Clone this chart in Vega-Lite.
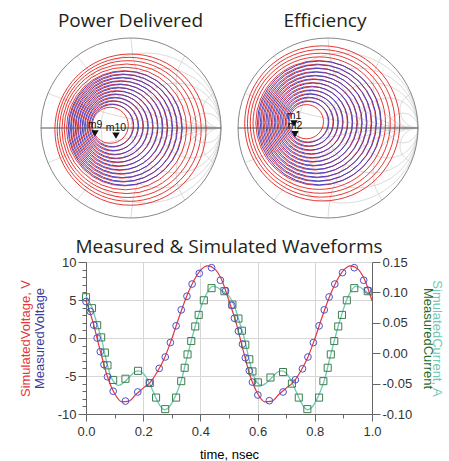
{
"$schema":"https://vega.github.io/schema/vega-lite/v6.json",
"background":"white",
"padding":{"left":19,"top":12,"right":0,"bottom":0},
"autosize":{"type":"pad"},
"spacing":18,
"config":{
 "view":{"stroke":null},
 "title":{"font":"Open Sans","fontSize":19,"fontWeight":"normal","color":"#231f20","baseline":"alphabetic","anchor":"middle"},
 "axis":{"labelFont":"Liberation Sans","labelFontSize":13,"labelColor":"#333","titleFont":"Liberation Sans","titleFontSize":13,"titleFontWeight":"normal","domainColor":"#666","tickColor":"#666","labelPadding":2,"gridColor":"#d6d6d6","labelOverlap":false,"labelFlush":false}
},
"datasets":{
 "grid":[
  {"x":0,"y":0,"r":1,"kind":"outer"},
  {"x":0.1667,"y":0,"r":0.8333,"kind":"r"},
  {"x":0.3333,"y":0,"r":0.6667,"kind":"r"},
  {"x":0.5,"y":0,"r":0.5,"kind":"r"},
  {"x":0.6667,"y":0,"r":0.3333,"kind":"r"},
  {"x":0.8333,"y":0,"r":0.1667,"kind":"r"}
 ],
 "axisline":[{"x":-1,"x2":1,"y":0}],
 "arcs":[
  {"id":"p1","k":0,"x":0,"y":1},{"id":"p1","k":1,"x":0.034,"y":0.741},{"id":"p1","k":2,"x":0.134,"y":0.5},{"id":"p1","k":3,"x":0.293,"y":0.293},{"id":"p1","k":4,"x":0.5,"y":0.134},{"id":"p1","k":5,"x":0.741,"y":0.034},{"id":"p1","k":6,"x":1,"y":0},
  {"id":"m1","k":0,"x":0,"y":-1},{"id":"m1","k":1,"x":0.034,"y":-0.741},{"id":"m1","k":2,"x":0.134,"y":-0.5},{"id":"m1","k":3,"x":0.293,"y":-0.293},{"id":"m1","k":4,"x":0.5,"y":-0.134},{"id":"m1","k":5,"x":0.741,"y":-0.034},{"id":"m1","k":6,"x":1,"y":0},
  {"id":"p2","k":0,"x":0.6,"y":0.8},{"id":"p2","k":1,"x":0.517,"y":0.629},{"id":"p2","k":2,"x":0.508,"y":0.413},{"id":"p2","k":3,"x":0.59,"y":0.213},{"id":"p2","k":4,"x":0.75,"y":0.067},{"id":"p2","k":5,"x":0.871,"y":0.017},{"id":"p2","k":6,"x":1,"y":0},
  {"id":"m2","k":0,"x":0.6,"y":-0.8},{"id":"m2","k":1,"x":0.517,"y":-0.629},{"id":"m2","k":2,"x":0.508,"y":-0.413},{"id":"m2","k":3,"x":0.59,"y":-0.213},{"id":"m2","k":4,"x":0.75,"y":-0.067},{"id":"m2","k":5,"x":0.871,"y":-0.017},{"id":"m2","k":6,"x":1,"y":0},
  {"id":"p05","k":0,"x":-0.6,"y":0.8},{"id":"p05","k":1,"x":-0.414,"y":0.586},{"id":"p05","k":2,"x":-0.147,"y":0.362},{"id":"p05","k":3,"x":0.155,"y":0.187},{"id":"p05","k":4,"x":0.482,"y":0.068},{"id":"p05","k":5,"x":0.722,"y":0.019},{"id":"p05","k":6,"x":1,"y":0},
  {"id":"m05","k":0,"x":-0.6,"y":-0.8},{"id":"m05","k":1,"x":-0.414,"y":-0.586},{"id":"m05","k":2,"x":-0.147,"y":-0.362},{"id":"m05","k":3,"x":0.155,"y":-0.187},{"id":"m05","k":4,"x":0.482,"y":-0.068},{"id":"m05","k":5,"x":0.722,"y":-0.019},{"id":"m05","k":6,"x":1,"y":0},
  {"id":"p5","k":0,"x":0.923,"y":0.385},{"id":"p5","k":1,"x":0.827,"y":0.3},{"id":"p5","k":2,"x":0.8,"y":0.2},{"id":"p5","k":3,"x":0.827,"y":0.1},{"id":"p5","k":4,"x":0.9,"y":0.027},{"id":"p5","k":5,"x":1,"y":0},
  {"id":"m5","k":0,"x":0.923,"y":-0.385},{"id":"m5","k":1,"x":0.827,"y":-0.3},{"id":"m5","k":2,"x":0.8,"y":-0.2},{"id":"m5","k":3,"x":0.827,"y":-0.1},{"id":"m5","k":4,"x":0.9,"y":-0.027},{"id":"m5","k":5,"x":1,"y":0},
  {"id":"p02","k":0,"x":-0.923,"y":0.385},{"id":"p02","k":1,"x":-0.545,"y":0.245},{"id":"p02","k":2,"x":-0.125,"y":0.13},{"id":"p02","k":3,"x":0.304,"y":0.049},{"id":"p02","k":4,"x":0.651,"y":0.012},{"id":"p02","k":5,"x":1,"y":0},
  {"id":"m02","k":0,"x":-0.923,"y":-0.385},{"id":"m02","k":1,"x":-0.545,"y":-0.245},{"id":"m02","k":2,"x":-0.125,"y":-0.13},{"id":"m02","k":3,"x":0.304,"y":-0.049},{"id":"m02","k":4,"x":0.651,"y":-0.012},{"id":"m02","k":5,"x":1,"y":0}
 ],
 "contours":[
  {"chart":"pd","type":"sim","x":-0.230,"y":0.030,"r":0.200},
  {"chart":"pd","type":"sim","x":-0.216,"y":0.027,"r":0.240},
  {"chart":"pd","type":"sim","x":-0.202,"y":0.024,"r":0.280},
  {"chart":"pd","type":"sim","x":-0.188,"y":0.021,"r":0.320},
  {"chart":"pd","type":"sim","x":-0.174,"y":0.018,"r":0.360},
  {"chart":"pd","type":"sim","x":-0.160,"y":0.015,"r":0.400},
  {"chart":"pd","type":"sim","x":-0.146,"y":0.012,"r":0.440},
  {"chart":"pd","type":"sim","x":-0.132,"y":0.009,"r":0.480},
  {"chart":"pd","type":"sim","x":-0.118,"y":0.006,"r":0.520},
  {"chart":"pd","type":"sim","x":-0.104,"y":0.003,"r":0.560},
  {"chart":"pd","type":"sim","x":-0.090,"y":0.000,"r":0.600},
  {"chart":"pd","type":"sim","x":-0.076,"y":-0.003,"r":0.640},
  {"chart":"pd","type":"sim","x":-0.062,"y":-0.006,"r":0.680},
  {"chart":"pd","type":"sim","x":-0.048,"y":-0.009,"r":0.720},
  {"chart":"pd","type":"sim","x":-0.034,"y":-0.012,"r":0.760},
  {"chart":"pd","type":"sim","x":-0.020,"y":-0.015,"r":0.800},
  {"chart":"pd","type":"sim","x":-0.006,"y":-0.018,"r":0.840},
  {"chart":"pd","type":"meas","x":-0.204,"y":0.027,"r":0.234},
  {"chart":"pd","type":"meas","x":-0.190,"y":0.024,"r":0.274},
  {"chart":"pd","type":"meas","x":-0.176,"y":0.021,"r":0.314},
  {"chart":"pd","type":"meas","x":-0.162,"y":0.018,"r":0.354},
  {"chart":"pd","type":"meas","x":-0.148,"y":0.015,"r":0.394},
  {"chart":"pd","type":"meas","x":-0.134,"y":0.012,"r":0.434},
  {"chart":"pd","type":"meas","x":-0.120,"y":0.009,"r":0.474},
  {"chart":"pd","type":"meas","x":-0.106,"y":0.006,"r":0.514},
  {"chart":"pd","type":"meas","x":-0.092,"y":0.003,"r":0.554},
  {"chart":"pd","type":"meas","x":-0.078,"y":0.000,"r":0.594},
  {"chart":"pd","type":"meas","x":-0.064,"y":-0.003,"r":0.634},
  {"chart":"ef","type":"sim","x":-0.240,"y":0.070,"r":0.190},
  {"chart":"ef","type":"sim","x":-0.229,"y":0.069,"r":0.232},
  {"chart":"ef","type":"sim","x":-0.218,"y":0.068,"r":0.274},
  {"chart":"ef","type":"sim","x":-0.207,"y":0.066,"r":0.316},
  {"chart":"ef","type":"sim","x":-0.196,"y":0.065,"r":0.358},
  {"chart":"ef","type":"sim","x":-0.185,"y":0.064,"r":0.400},
  {"chart":"ef","type":"sim","x":-0.174,"y":0.063,"r":0.442},
  {"chart":"ef","type":"sim","x":-0.163,"y":0.062,"r":0.484},
  {"chart":"ef","type":"sim","x":-0.152,"y":0.060,"r":0.526},
  {"chart":"ef","type":"sim","x":-0.141,"y":0.059,"r":0.568},
  {"chart":"ef","type":"sim","x":-0.130,"y":0.058,"r":0.610},
  {"chart":"ef","type":"sim","x":-0.119,"y":0.057,"r":0.652},
  {"chart":"ef","type":"sim","x":-0.108,"y":0.056,"r":0.694},
  {"chart":"ef","type":"sim","x":-0.097,"y":0.054,"r":0.736},
  {"chart":"ef","type":"sim","x":-0.086,"y":0.053,"r":0.778},
  {"chart":"ef","type":"sim","x":-0.075,"y":0.052,"r":0.820},
  {"chart":"ef","type":"sim","x":-0.064,"y":0.051,"r":0.862},
  {"chart":"ef","type":"meas","x":-0.217,"y":0.069,"r":0.226},
  {"chart":"ef","type":"meas","x":-0.206,"y":0.068,"r":0.268},
  {"chart":"ef","type":"meas","x":-0.195,"y":0.066,"r":0.310},
  {"chart":"ef","type":"meas","x":-0.184,"y":0.065,"r":0.352},
  {"chart":"ef","type":"meas","x":-0.173,"y":0.064,"r":0.394},
  {"chart":"ef","type":"meas","x":-0.162,"y":0.063,"r":0.436},
  {"chart":"ef","type":"meas","x":-0.151,"y":0.062,"r":0.478},
  {"chart":"ef","type":"meas","x":-0.140,"y":0.060,"r":0.520},
  {"chart":"ef","type":"meas","x":-0.129,"y":0.059,"r":0.562},
  {"chart":"ef","type":"meas","x":-0.118,"y":0.058,"r":0.604},
  {"chart":"ef","type":"meas","x":-0.107,"y":0.057,"r":0.646},
  {"chart":"ef","type":"meas","x":-0.096,"y":0.056,"r":0.688}
 ],
 "markers":[
  {"chart":"pd","label":"m9","x":-0.40,"y":-0.06},
  {"chart":"pd","label":"m10","x":-0.167,"y":-0.085},
  {"chart":"ef","label":"m1","x":-0.378,"y":0.05},
  {"chart":"ef","label":"m2","x":-0.367,"y":-0.07}
 ],
 "vsim":[
  {"t":0,"v":4.9},{"t":0.025,"v":2.0},{"t":0.05,"v":-1.7},{"t":0.075,"v":-5.1},{"t":0.1,"v":-7.3},{"t":0.125,"v":-8.4},{"t":0.15,"v":-8.3},{"t":0.175,"v":-7.4},{"t":0.2,"v":-6.6},{"t":0.225,"v":-5.8},{"t":0.25,"v":-4.4},{"t":0.275,"v":-2.6},{"t":0.3,"v":-0.1},{"t":0.325,"v":2.7},{"t":0.35,"v":5.3},{"t":0.375,"v":7.4},{"t":0.4,"v":8.9},{"t":0.425,"v":9.5},{"t":0.45,"v":9.1},{"t":0.475,"v":7.6},
  {"t":0.5,"v":4.9},{"t":0.525,"v":2.0},{"t":0.55,"v":-1.7},{"t":0.575,"v":-5.1},{"t":0.6,"v":-7.3},{"t":0.625,"v":-8.4},{"t":0.65,"v":-8.3},{"t":0.675,"v":-7.4},{"t":0.7,"v":-6.6},{"t":0.725,"v":-5.8},{"t":0.75,"v":-4.4},{"t":0.775,"v":-2.6},{"t":0.8,"v":-0.1},{"t":0.825,"v":2.7},{"t":0.85,"v":5.3},{"t":0.875,"v":7.4},{"t":0.9,"v":8.9},{"t":0.925,"v":9.5},{"t":0.95,"v":9.1},{"t":0.975,"v":7.6},{"t":1,"v":4.9}
 ],
 "vmeas":[
  {"t":0.000,"v":4.8},{"t":0.015,"v":3.5},{"t":0.027,"v":1.7},{"t":0.039,"v":0.0},{"t":0.050,"v":-1.8},{"t":0.063,"v":-3.5},{"t":0.075,"v":-5.1},{"t":0.095,"v":-7.0},{"t":0.138,"v":-8.3},{"t":0.181,"v":-7.1},{"t":0.222,"v":-5.9},{"t":0.256,"v":-4.0},{"t":0.277,"v":-2.5},{"t":0.295,"v":-0.6},{"t":0.315,"v":1.6},{"t":0.333,"v":3.7},{"t":0.353,"v":5.5},{"t":0.371,"v":7.1},{"t":0.396,"v":8.5},{"t":0.439,"v":9.25},{"t":0.470,"v":7.6},{"t":0.488,"v":6.2},
  {"t":0.510,"v":4.3},{"t":0.519,"v":2.6},{"t":0.533,"v":0.9},{"t":0.547,"v":-0.8},{"t":0.557,"v":-2.6},{"t":0.571,"v":-4.3},{"t":0.582,"v":-5.8},{"t":0.601,"v":-7.5},{"t":0.641,"v":-8.25},{"t":0.689,"v":-7.1},{"t":0.732,"v":-5.5},{"t":0.757,"v":-4.05},{"t":0.776,"v":-2.5},{"t":0.795,"v":-0.6},{"t":0.815,"v":1.6},{"t":0.833,"v":3.7},{"t":0.850,"v":5.4},{"t":0.870,"v":7.1},{"t":0.897,"v":8.6},{"t":0.938,"v":9.25},{"t":0.971,"v":7.6},{"t":0.985,"v":6.3}
 ],
 "isim":[
  {"t":0,"i":0.094},{"t":0.02,"i":0.076},{"t":0.04,"i":0.046},{"t":0.055,"i":0.022},{"t":0.07,"i":-0.010},{"t":0.085,"i":-0.036},{"t":0.1,"i":-0.049},{"t":0.115,"i":-0.053},{"t":0.13,"i":-0.049},{"t":0.15,"i":-0.040},{"t":0.17,"i":-0.031},{"t":0.185,"i":-0.029},{"t":0.2,"i":-0.033},{"t":0.215,"i":-0.043},{"t":0.23,"i":-0.058},{"t":0.245,"i":-0.074},{"t":0.26,"i":-0.087},{"t":0.275,"i":-0.093},{"t":0.29,"i":-0.089},{"t":0.305,"i":-0.078},{"t":0.32,"i":-0.062},{"t":0.335,"i":-0.042},{"t":0.35,"i":-0.013},{"t":0.365,"i":0.015},{"t":0.38,"i":0.041},{"t":0.395,"i":0.065},{"t":0.41,"i":0.086},{"t":0.425,"i":0.101},{"t":0.443,"i":0.110},{"t":0.46,"i":0.108},{"t":0.475,"i":0.103},{"t":0.49,"i":0.098},
  {"t":0.5,"i":0.094},{"t":0.52,"i":0.076},{"t":0.54,"i":0.046},{"t":0.555,"i":0.022},{"t":0.57,"i":-0.010},{"t":0.585,"i":-0.036},{"t":0.6,"i":-0.049},{"t":0.615,"i":-0.053},{"t":0.63,"i":-0.049},{"t":0.65,"i":-0.040},{"t":0.67,"i":-0.031},{"t":0.685,"i":-0.029},{"t":0.7,"i":-0.033},{"t":0.715,"i":-0.043},{"t":0.73,"i":-0.058},{"t":0.745,"i":-0.074},{"t":0.76,"i":-0.087},{"t":0.775,"i":-0.093},{"t":0.79,"i":-0.089},{"t":0.805,"i":-0.078},{"t":0.82,"i":-0.062},{"t":0.835,"i":-0.042},{"t":0.85,"i":-0.013},{"t":0.865,"i":0.015},{"t":0.88,"i":0.041},{"t":0.895,"i":0.065},{"t":0.91,"i":0.086},{"t":0.925,"i":0.101},{"t":0.943,"i":0.110},{"t":0.96,"i":0.108},{"t":0.975,"i":0.103},{"t":0.99,"i":0.098},{"t":1,"i":0.094}
 ],
 "imeas":[
  {"t":0.000,"i":0.092},{"t":0.021,"i":0.074},{"t":0.039,"i":0.046},{"t":0.053,"i":0.026},{"t":0.066,"i":0.001},{"t":0.075,"i":-0.020},{"t":0.095,"i":-0.044},{"t":0.138,"i":-0.042},{"t":0.182,"i":-0.029},{"t":0.223,"i":-0.049},{"t":0.245,"i":-0.073},{"t":0.277,"i":-0.092},{"t":0.315,"i":-0.073},{"t":0.333,"i":-0.046},{"t":0.345,"i":-0.024},{"t":0.355,"i":-0.002},{"t":0.368,"i":0.020},{"t":0.382,"i":0.044},{"t":0.394,"i":0.063},{"t":0.412,"i":0.087},{"t":0.439,"i":0.107},{"t":0.484,"i":0.102},
  {"t":0.512,"i":0.080},{"t":0.533,"i":0.057},{"t":0.545,"i":0.037},{"t":0.557,"i":0.014},{"t":0.571,"i":-0.010},{"t":0.582,"i":-0.030},{"t":0.601,"i":-0.048},{"t":0.645,"i":-0.040},{"t":0.689,"i":-0.031},{"t":0.720,"i":-0.050},{"t":0.744,"i":-0.073},{"t":0.774,"i":-0.092},{"t":0.815,"i":-0.073},{"t":0.830,"i":-0.046},{"t":0.845,"i":-0.024},{"t":0.856,"i":-0.002},{"t":0.868,"i":0.020},{"t":0.882,"i":0.044},{"t":0.895,"i":0.063},{"t":0.912,"i":0.087},{"t":0.938,"i":0.107},{"t":0.985,"i":0.102}
 ]
},
"vconcat":[
 {"hconcat":[
  {"width":135,"height":180,
   "title":{"text":"Power Delivered","offset":5,"dx":-23,"frame":"group"},
   "encoding":{"x":{"field":"x","type":"quantitative","scale":{"domain":[-0.5,1],"nice":false,"zero":false},"axis":null},
               "y":{"field":"y","type":"quantitative","scale":{"domain":[-1,1],"nice":false,"zero":false},"axis":null}},
   "layer":[
    {"data":{"name":"grid"},"transform":[{"filter":"datum.kind=='r'"}],"mark":{"type":"point","filled":false,"opacity":1,"color":"#d2d2d2","strokeWidth":0.8},
     "encoding":{"size":{"field":"r","type":"quantitative","scale":{"type":"pow","exponent":2,"domain":[0,1],"range":[0,32400]},"legend":null}}},
    {"data":{"name":"arcs"},"mark":{"type":"line","interpolate":"cardinal","color":"#d2d2d2","strokeWidth":0.8},
     "encoding":{"detail":{"field":"id"},"order":{"field":"k","type":"quantitative"}}},
    {"data":{"name":"contours"},"transform":[{"filter":"datum.chart=='pd' && datum.type=='sim'"}],"mark":{"type":"point","filled":false,"opacity":1,"color":"#e53935","strokeWidth":1},
     "encoding":{"size":{"field":"r","type":"quantitative","scale":{"type":"pow","exponent":2,"domain":[0,1],"range":[0,32400]},"legend":null}}},
    {"data":{"name":"contours"},"transform":[{"filter":"datum.chart=='pd' && datum.type=='meas'"}],"mark":{"type":"point","filled":false,"opacity":1,"color":"#4b40c0","strokeWidth":1},
     "encoding":{"size":{"field":"r","type":"quantitative","scale":{"type":"pow","exponent":2,"domain":[0,1],"range":[0,32400]},"legend":null}}},
    {"data":{"name":"grid"},"transform":[{"filter":"datum.kind=='outer'"}],"mark":{"type":"point","filled":false,"opacity":1,"color":"#888888","strokeWidth":1},
     "encoding":{"size":{"field":"r","type":"quantitative","scale":{"type":"pow","exponent":2,"domain":[0,1],"range":[0,32400]},"legend":null}}},
    {"data":{"name":"axisline"},"mark":{"type":"rule","color":"#555555","strokeWidth":1},"encoding":{"x2":{"field":"x2"}}},
    {"data":{"name":"markers"},"transform":[{"filter":"datum.chart=='pd'"}],"mark":{"type":"point","shape":"triangle-down","filled":true,"opacity":1,"color":"#111111","size":55},"encoding":{}},
    {"data":{"name":"markers"},"transform":[{"filter":"datum.chart=='pd'"}],"mark":{"type":"text","dy":-8,"fontSize":10.5,"font":"Liberation Sans","color":"#111111"},"encoding":{"text":{"field":"label"}}}
   ]},
  {"width":180,"height":180,
   "title":{"text":"Efficiency","offset":5,"dx":-3,"frame":"group"},
   "encoding":{"x":{"field":"x","type":"quantitative","scale":{"domain":[-1,1],"nice":false,"zero":false},"axis":null},
               "y":{"field":"y","type":"quantitative","scale":{"domain":[-1,1],"nice":false,"zero":false},"axis":null}},
   "layer":[
    {"data":{"name":"grid"},"transform":[{"filter":"datum.kind=='r'"}],"mark":{"type":"point","filled":false,"opacity":1,"color":"#d2d2d2","strokeWidth":0.8},
     "encoding":{"size":{"field":"r","type":"quantitative","scale":{"type":"pow","exponent":2,"domain":[0,1],"range":[0,32400]},"legend":null}}},
    {"data":{"name":"arcs"},"mark":{"type":"line","interpolate":"cardinal","color":"#d2d2d2","strokeWidth":0.8},
     "encoding":{"detail":{"field":"id"},"order":{"field":"k","type":"quantitative"}}},
    {"data":{"name":"contours"},"transform":[{"filter":"datum.chart=='ef' && datum.type=='sim'"}],"mark":{"type":"point","filled":false,"opacity":1,"color":"#e53935","strokeWidth":1},
     "encoding":{"size":{"field":"r","type":"quantitative","scale":{"type":"pow","exponent":2,"domain":[0,1],"range":[0,32400]},"legend":null}}},
    {"data":{"name":"contours"},"transform":[{"filter":"datum.chart=='ef' && datum.type=='meas'"}],"mark":{"type":"point","filled":false,"opacity":1,"color":"#4b40c0","strokeWidth":1},
     "encoding":{"size":{"field":"r","type":"quantitative","scale":{"type":"pow","exponent":2,"domain":[0,1],"range":[0,32400]},"legend":null}}},
    {"data":{"name":"grid"},"transform":[{"filter":"datum.kind=='outer'"}],"mark":{"type":"point","filled":false,"opacity":1,"color":"#888888","strokeWidth":1},
     "encoding":{"size":{"field":"r","type":"quantitative","scale":{"type":"pow","exponent":2,"domain":[0,1],"range":[0,32400]},"legend":null}}},
    {"data":{"name":"axisline"},"mark":{"type":"rule","color":"#555555","strokeWidth":1},"encoding":{"x2":{"field":"x2"}}},
    {"data":{"name":"markers"},"transform":[{"filter":"datum.chart=='ef'"}],"mark":{"type":"point","shape":"triangle-down","filled":true,"opacity":1,"color":"#111111","size":55},"encoding":{}},
    {"data":{"name":"markers"},"transform":[{"filter":"datum.chart=='ef'"}],"mark":{"type":"text","dy":-8,"fontSize":10.5,"font":"Liberation Sans","color":"#111111"},"encoding":{"text":{"field":"label"}}}
   ]}
 ],"spacing":13},
 {"width":286,"height":152,
  "title":{"text":"Measured & Simulated Waveforms","offset":-1},
  "encoding":{"x":{"field":"t","type":"quantitative","scale":{"domain":[0,1],"nice":false,"zero":false},
     "axis":{"values":[0,0.1,0.2,0.3,0.4,0.5,0.6,0.7,0.8,0.9,1],
             "labelExpr":"round(datum.value*10)%2==0 ? format(datum.value,'.1f') : ''",
             "tickSize":{"condition":{"test":"round(datum.value*10)%2==0","value":7},"value":4},
             "grid":true,
             "gridOpacity":{"condition":{"test":"round(datum.value*10)%2==0","value":1},"value":0},
             "labelPadding":4,"title":"time, nsec","titlePadding":10}}},
  "layer":[
   {"data":{"name":"isim"},"mark":{"type":"line","interpolate":"monotone","color":"#6dcab5","strokeWidth":1.3},
    "encoding":{"y":{"field":"i","type":"quantitative","scale":{"domain":[-0.1,0.15],"nice":false,"zero":false},
      "axis":{"orient":"right","values":[-0.1,-0.05,0,0.05,0.1,0.15],
              "labelExpr":"datum.value < -0.001 ? '-' + format(-datum.value,'.2f') : format(abs(datum.value),'.2f')",
              "tickSize":8,"grid":false,"title":"SimulatedCurrent, A","titleColor":"#6dcab5","titlePadding":18}}}},
   {"data":{"name":"vsim"},"mark":{"type":"line","interpolate":"monotone","color":"#e8353a","strokeWidth":1.2},
    "encoding":{"y":{"field":"v","type":"quantitative","scale":{"domain":[-10,10],"nice":false,"zero":false},
      "axis":{"orient":"left","values":[-10,-9,-8,-7,-6,-5,-4,-3,-2,-1,0,1,2,3,4,5,6,7,8,9,10],
              "labelExpr":"datum.value % 5 == 0 ? '' + datum.value : ''",
              "tickSize":{"condition":{"test":"datum.value % 5 == 0","value":8},"value":4},
              "grid":true,
              "gridOpacity":{"condition":{"test":"datum.value % 5 == 0","value":1},"value":0},
              "title":"SimulatedVoltage, V","titleColor":"#e8353a","titlePadding":25}}}},
   {"data":{"name":"imeas"},"mark":{"type":"point","shape":"square","filled":false,"opacity":1,"color":"#3f7d4a","size":50,"strokeWidth":1},
    "encoding":{"y":{"field":"i","type":"quantitative","scale":{"domain":[-0.1,0.15],"nice":false,"zero":false},
      "axis":{"orient":"right","labels":false,"ticks":false,"domain":false,"grid":false,"title":"MeasuredCurrent","titleColor":"#1f6b2a","titlePadding":48}}}},
   {"data":{"name":"vmeas"},"mark":{"type":"point","shape":"circle","filled":false,"opacity":1,"color":"#4f4fc8","size":45,"strokeWidth":1},
    "encoding":{"y":{"field":"v","type":"quantitative","scale":{"domain":[-10,10],"nice":false,"zero":false},
      "axis":{"orient":"left","labels":false,"ticks":false,"domain":false,"grid":false,"title":"MeasuredVoltage","titleColor":"#3b3b9e","titlePadding":40}}}}
  ],
  "resolve":{"scale":{"y":"independent"}}}
]
}
